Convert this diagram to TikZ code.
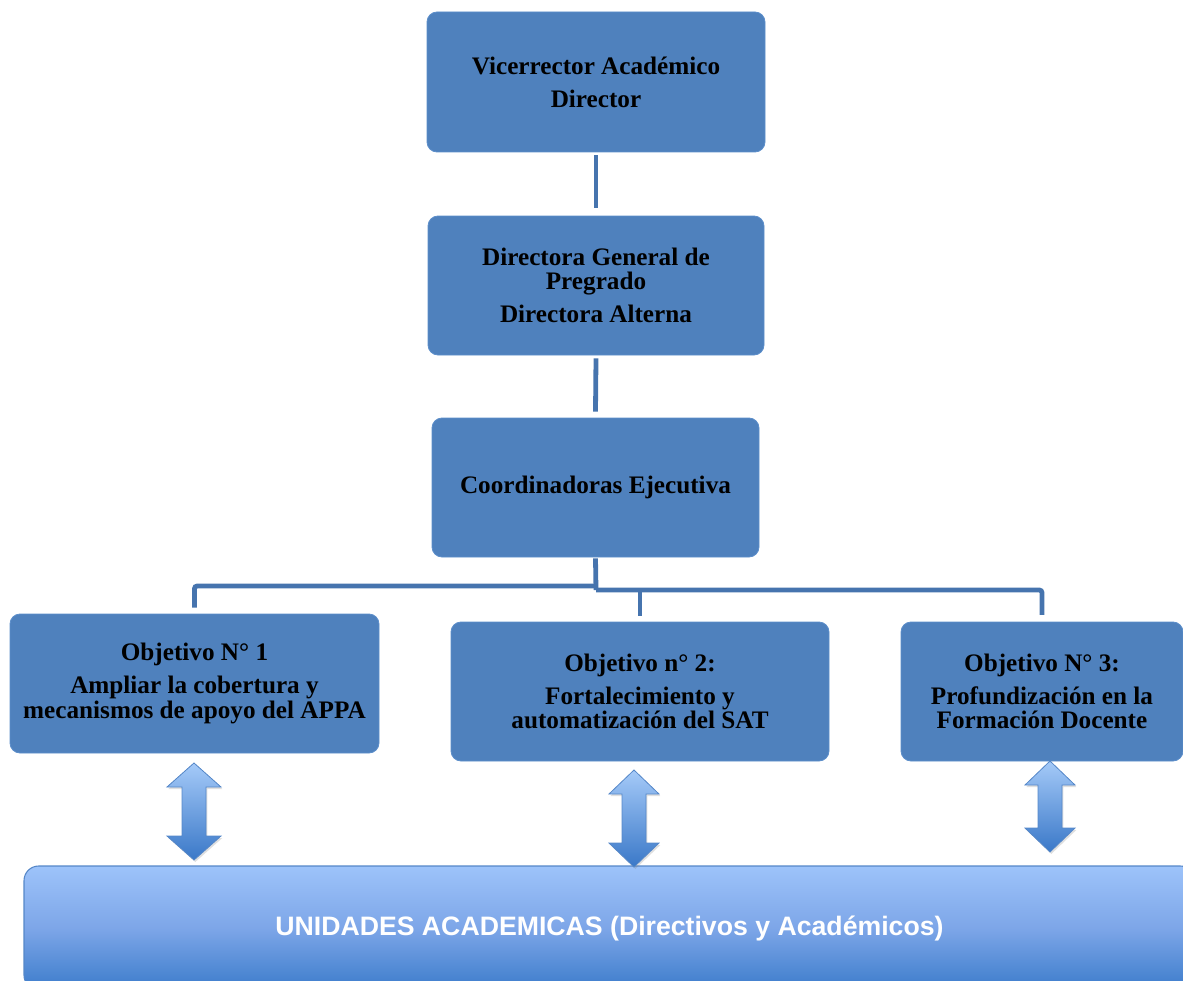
\documentclass[tikz,border=0pt]{standalone}
\usepackage{fontspec}
\setmainfont{Liberation Serif}
\newfontfamily\arialfont{Liberation Sans}
\usetikzlibrary{shadows}
\definecolor{boxblue}{RGB}{79,129,189}
\definecolor{boxedge}{RGB}{92,142,202}
\definecolor{connblue}{RGB}{70,116,174}
\definecolor{gradtop}{RGB}{157,195,250}
\definecolor{gradmid}{RGB}{125,166,232}
\definecolor{gradbot}{RGB}{60,124,203}
\definecolor{arrtop}{RGB}{165,202,248}
\definecolor{arrbot}{RGB}{58,120,200}
\definecolor{arredge}{RGB}{85,135,200}
\newcommand\dblarr[4]{%
 \path[dblarrow] (#1,#2) -- ({#1+#4},{#2+24}) -- ({#1+12},{#2+24}) -- ({#1+12},{#3-24}) -- ({#1+#4},{#3-24}) -- (#1,#3) -- ({#1-#4},{#3-24}) -- ({#1-12},{#3-24}) -- ({#1-12},{#2+24}) -- ({#1-#4},{#2+24}) -- cycle;}
\begin{document}
\begin{tikzpicture}[x=0.75pt,y=-0.75pt,
 orgbox/.style={rectangle, rounded corners=7.5pt, fill=boxblue, draw=boxedge, line width=0.6pt, align=center, font=\fontsize{18.9}{18.4}\selectfont\bfseries, inner sep=0pt},
 conn/.style={connblue, line width=3.6pt},
 dblarrow/.style={top color=arrtop, bottom color=arrbot, draw=arredge, line width=0.6pt, drop shadow={opacity=0.25, shadow xshift=1pt, shadow yshift=-1.5pt}}
]
\useasboundingbox (0,0) rectangle (1183,981);
\clip (0,0) rectangle (1183,981);
\node[orgbox, minimum width=253.5pt, minimum height=105pt] (vr) at (596,82) {Vicerrector Académico\\[6.4pt]Director};
\node[orgbox, minimum width=252pt, minimum height=104.25pt] (dg) at (596,285.5) {Directora General de\\Pregrado\\[6.4pt]Directora Alterna};
\node[orgbox, minimum width=245.25pt, minimum height=104.25pt] (ce) at (595.5,487.5) {Coordinadoras Ejecutiva};
\node[orgbox, minimum width=276.75pt, minimum height=104.25pt] (o1) at (194.5,683.5) {Objetivo N° 1\\[6.4pt]Ampliar la cobertura y\\mecanismos de apoyo del APPA};
\node[orgbox, minimum width=283.5pt, minimum height=104.25pt] (o2) at (640,691.5) {Objetivo n° 2:\\[6.4pt]Fortalecimiento y\\automatización del SAT};
\node[orgbox, minimum width=211.5pt, minimum height=104.25pt] (o3) at (1042,691.5) {Objetivo N° 3:\\[6.4pt]Profundización en la\\Formación Docente};
\node[rectangle, rounded corners=11pt, top color=gradtop, bottom color=gradbot, middle color=gradmid, draw=arredge, line width=0.8pt, minimum width=878.25pt, minimum height=93pt, drop shadow={opacity=0.25, shadow xshift=1pt, shadow yshift=-1.5pt}, text=white, font=\arialfont\fontsize{20}{24}\selectfont\bfseries] (ua) at (609.5,928) {UNIDADES ACADEMICAS (Directivos y Académicos)};
\draw[conn] ([yshift=-2.25pt]vr.south) -- ([yshift=6pt]dg.north);
\draw[conn] ([yshift=-2.25pt]dg.south) -- ([yshift=4.5pt]ce.north);
\coordinate (jl) at (596,586);
\coordinate (jr) at (596,590);
\coordinate (jm) at (640,590);
\draw[conn] ([yshift=-0.75pt]ce.south) -- (jr);
\draw[conn, rounded corners=2pt] (jl) -| ([yshift=4.5pt]o1.north);
\draw[conn, rounded corners=2pt] (jr) -| ([yshift=5pt]o3.north);
\draw[conn] (jm) -- ([yshift=4.5pt]o2.north);
\dblarr{194}{763}{860}{27}
\dblarr{634}{770}{867}{25}
\dblarr{1050}{761}{852}{25}
\end{tikzpicture}
\end{document}
